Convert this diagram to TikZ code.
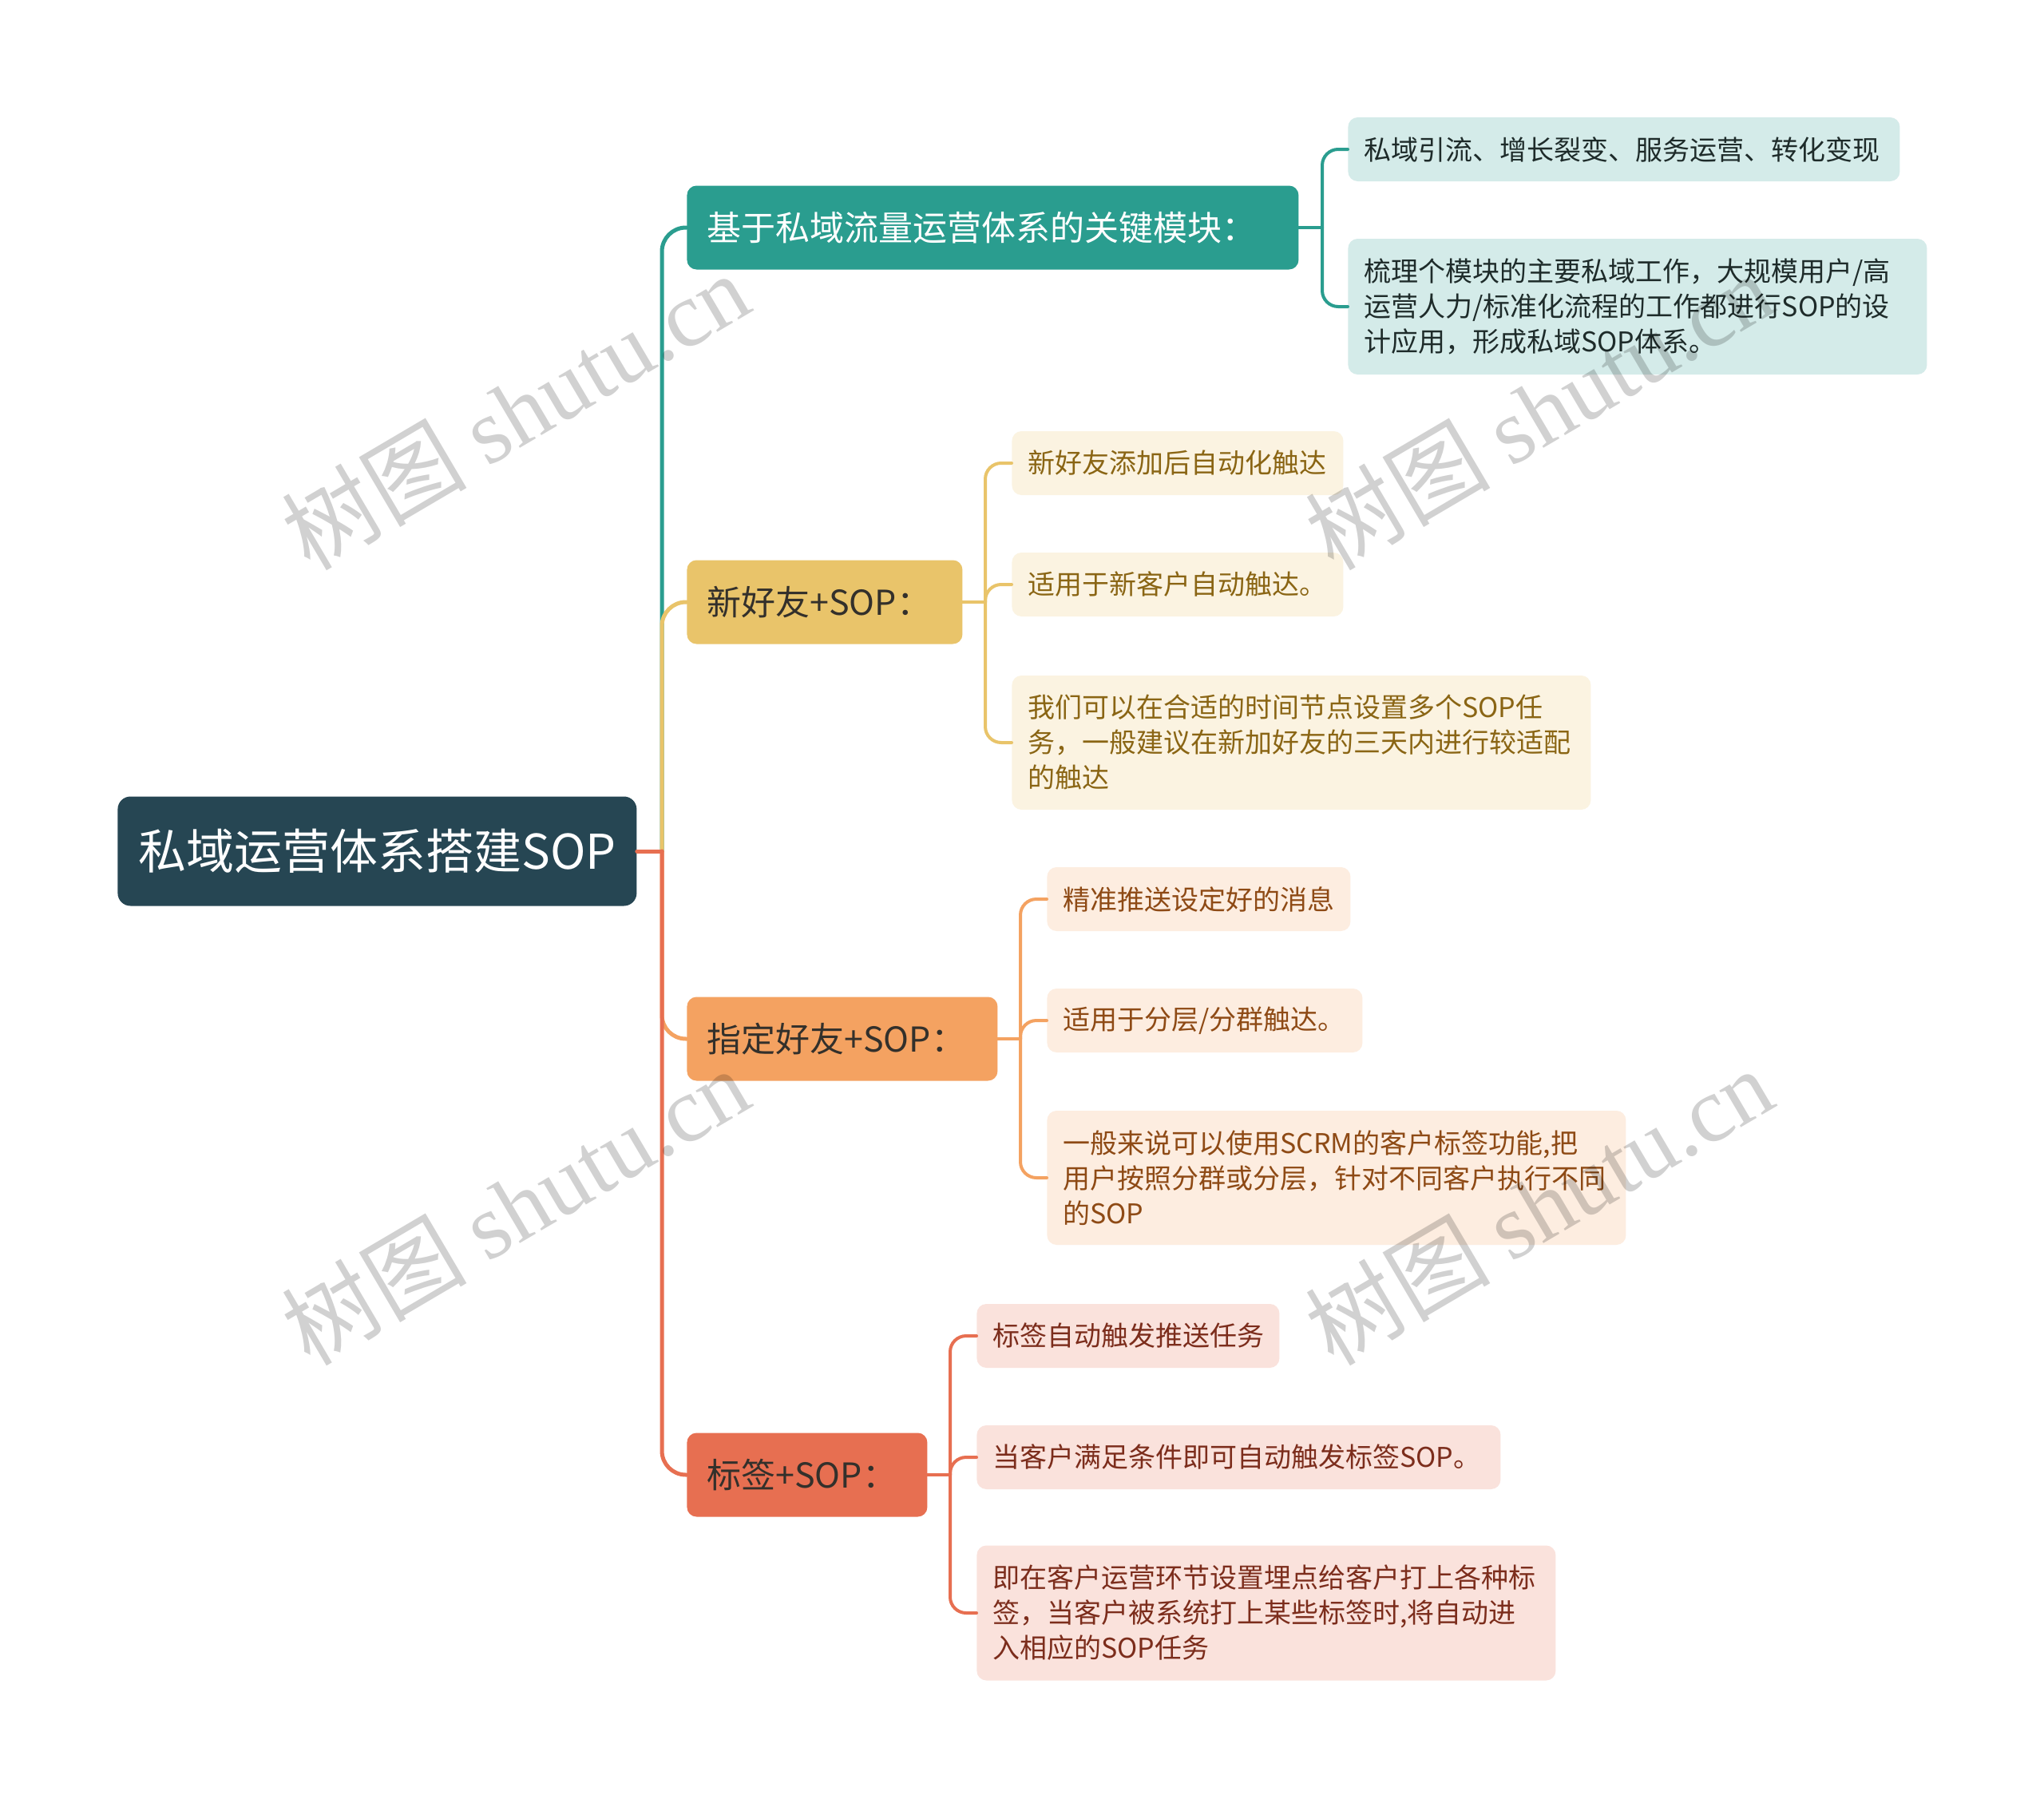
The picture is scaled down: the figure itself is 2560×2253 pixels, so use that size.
\documentclass[tikz,border=0pt]{standalone}
\usepackage{fontspec}
\setmainfont{Noto Sans CJK SC}
\newfontfamily\wmlatin{Liberation Serif}
\definecolor{rootc}{HTML}{264653}
\definecolor{tealc}{HTML}{2A9D8F}
\definecolor{yelc}{HTML}{E9C46A}
\definecolor{orac}{HTML}{F4A261}
\definecolor{redc}{HTML}{E76F51}
\definecolor{tealbg}{HTML}{D4EBE9}
\definecolor{yelbg}{HTML}{FBF3E1}
\definecolor{orabg}{HTML}{FDEDE0}
\definecolor{redbg}{HTML}{FAE2DC}
\definecolor{tealtx}{HTML}{1E2B2A}
\definecolor{yeltx}{HTML}{8A6514}
\definecolor{oratx}{HTML}{8E4A15}
\definecolor{redtx}{HTML}{7C2D1C}
\definecolor{darktx}{HTML}{33302B}
\tikzset{
  rootbox/.style={rounded corners=8pt, fill=rootc, text=white,
    font=\fontsize{30pt}{36pt}\selectfont, minimum width=325pt,
    minimum height=68.5pt, inner sep=0pt, anchor=west},
  lonebox/.style={rounded corners=6pt, font=\fontsize{21.5pt}{26pt}\selectfont,
    minimum height=52.5pt, inner xsep=12.5pt, inner ysep=0pt, anchor=west, align=left},
  leafbox/.style={rounded corners=6pt, font=\fontsize{17pt}{22pt}\selectfont,
    inner xsep=10pt, inner ysep=0pt, anchor=west, align=left},
  trunk/.style={line width=2.5pt, line cap=round},
  twig/.style={line width=2pt, line cap=round},
  wm/.style={text=black, text opacity=0.18, font=\fontsize{58pt}{66pt}\selectfont, rotate=30.5, inner sep=0pt}
}
\begin{document}
\begin{tikzpicture}[x=0.5pt, y=-0.5pt]
\useasboundingbox[fill=white] (0,0) rectangle (2560,2253);

% nodes
\node[rootbox] (root) at (147,1066) {私域运营体系搭建SOP};

\node[lonebox, fill=tealc, text=white, text width=358pt] (t) at (860,285) {基于私域流量运营体系的关键模块：};
\node[lonebox, fill=yelc, text=darktx, text width=147.5pt] (y) at (860,754) {新好友+SOP：};
\node[lonebox, fill=orac, text=darktx, text width=169.5pt] (o) at (860,1301) {指定好友+SOP：};
\node[lonebox, fill=redc, text=darktx, text width=125.5pt] (r) at (860,1847) {标签+SOP：};

\node[leafbox, fill=tealbg, text=tealtx, text width=325.5pt, minimum height=40pt] (t1) at (1688,187) {私域引流、增长裂变、服务运营、转化变现};
\node[leafbox, fill=tealbg, text=tealtx, text width=342.5pt, minimum height=85pt] (t2) at (1688,384) {梳理个模块的主要私域工作，大规模用户/高\\运营人力/标准化流程的工作都进行SOP的设\\计应用，形成私域SOP体系。};

\node[leafbox, fill=yelbg, text=yeltx, text width=187.5pt, minimum height=40pt] (y1) at (1267,580) {新好友添加后自动化触达};
\node[leafbox, fill=yelbg, text=yeltx, text width=187.5pt, minimum height=40pt] (y2) at (1267,732) {适用于新客户自动触达。};
\node[leafbox, fill=yelbg, text=yeltx, text width=342.5pt, minimum height=84pt] (y3) at (1267,930) {我们可以在合适的时间节点设置多个SOP任\\务，一般建议在新加好友的三天内进行较适配\\的触达};

\node[leafbox, fill=orabg, text=oratx, text width=170pt, minimum height=40pt] (o1) at (1311,1126) {精准推送设定好的消息};
\node[leafbox, fill=orabg, text=oratx, text width=177.5pt, minimum height=40pt] (o2) at (1311,1278) {适用于分层/分群触达。};
\node[leafbox, fill=orabg, text=oratx, text width=342.5pt, minimum height=84pt] (o3) at (1311,1475) {一般来说可以使用SCRM的客户标签功能,把\\用户按照分群或分层，针对不同客户执行不同\\的SOP};

\node[leafbox, fill=redbg, text=redtx, text width=169.5pt, minimum height=40pt] (r1) at (1223,1673) {标签自动触发推送任务};
\node[leafbox, fill=redbg, text=redtx, text width=308pt, minimum height=40pt] (r2) at (1223,1825) {当客户满足条件即可自动触发标签SOP。};
\node[leafbox, fill=redbg, text=redtx, text width=342.5pt, minimum height=84.5pt] (r3) at (1223,2020) {即在客户运营环节设置埋点给客户打上各种标\\签，当客户被系统打上某些标签时,将自动进\\入相应的SOP任务};

% junction coordinates
\coordinate (tr) at (829,1066);
\coordinate (tb) at (1656,285);
\coordinate (yb) at (1234,754);
\coordinate (ob) at (1278,1301);
\coordinate (rb) at (1190,1847);

% trunk connectors
\draw[trunk, tealc, rounded corners=15pt] (tr) |- (t.west);
\draw[trunk, yelc, rounded corners=15pt] (tr) |- (y.west);
\draw[trunk, orac, rounded corners=15pt] (tr) |- (o.west);
\draw[trunk, redc, rounded corners=15pt] (tr) |- (r.west);
\draw[trunk, redc] (root.east) -- (tr);

% leaf connectors
\draw[twig, tealc] (t.east) -- (tb);
\draw[twig, tealc, rounded corners=10pt] (tb) |- (t1.west);
\draw[twig, tealc, rounded corners=10pt] (tb) |- (t2.west);

\draw[twig, yelc] (y.east) -- (yb);
\draw[twig, yelc, rounded corners=10pt] (yb) |- (y1.west);
\draw[twig, yelc, rounded corners=10pt] (yb) |- (y2.west);
\draw[twig, yelc, rounded corners=10pt] (yb) |- (y3.west);

\draw[twig, orac] (o.east) -- (ob);
\draw[twig, orac, rounded corners=10pt] (ob) |- (o1.west);
\draw[twig, orac, rounded corners=10pt] (ob) |- (o2.west);
\draw[twig, orac, rounded corners=10pt] (ob) |- (o3.west);

\draw[twig, redc] (r.east) -- (rb);
\draw[twig, redc, rounded corners=10pt] (rb) |- (r1.west);
\draw[twig, redc, rounded corners=10pt] (rb) |- (r2.west);
\draw[twig, redc, rounded corners=10pt] (rb) |- (r3.west);

% watermarks
\node[wm] (w1) at (645,514) {树图 {\wmlatin shutu.cn}};
\node[wm] (w2) at (1927,514) {树图 {\wmlatin shutu.cn}};
\node[wm] (w3) at (645,1510) {树图 {\wmlatin shutu.cn}};
\node[wm] (w4) at (1927,1510) {树图 {\wmlatin shutu.cn}};
\end{tikzpicture}
\end{document}
